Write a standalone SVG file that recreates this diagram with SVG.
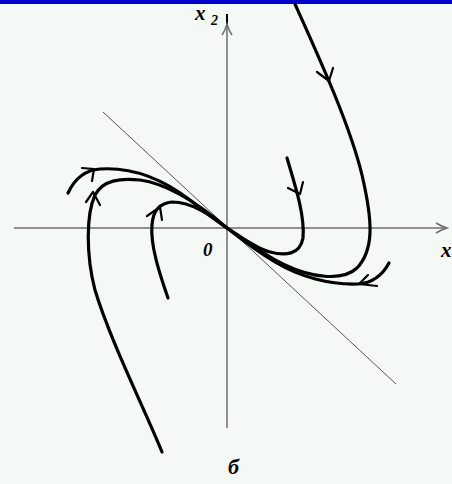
<svg xmlns="http://www.w3.org/2000/svg" width="452" height="484" viewBox="0 0 452 484">
<style>
.axis{fill:none;stroke:#6e6e6e;stroke-width:1.5}
.diag{fill:none;stroke:#555;stroke-width:1}
.traj{fill:none;stroke:#000;stroke-width:3.2;stroke-linecap:round;stroke-linejoin:round}
.arr{fill:none;stroke:#000;stroke-width:2.2;stroke-linecap:round;stroke-linejoin:round}
.lbl{font-family:"Liberation Serif",serif;font-style:italic;font-weight:bold;fill:#000}
</style>
<rect x="0" y="0" width="452" height="484" fill="#f4f9f6"/>
<rect x="0" y="0" width="452" height="4" fill="#0000c8"/>
<g id="axes">
<path class="axis" d="M227,16 L227,428"/>
<path d="M227,14 L227,25" stroke="#000" stroke-width="2"/>
<path class="axis" d="M222,35 Q225,31 227,24 Q229,31 232,35"/>
<path class="axis" d="M14,228 L447,228"/>
<path class="axis" d="M436,223 Q441,226 447,228 Q441,230 436,233"/>
<path class="diag" d="M103,112 L396,384"/>
</g>
<g id="labels">
<text class="lbl" x="195" y="20" font-size="21">x</text>
<text class="lbl" x="211" y="25" font-size="14" font-style="normal" font-family="Liberation Sans, sans-serif">2</text>
<text class="lbl" x="441" y="257" font-size="21">x</text>
<text class="lbl" x="203" y="256" font-size="19">0</text>
<text class="lbl" x="228" y="474" font-size="22">б</text>
</g>
<g id="connectors">
<g id="traj1"><path class="traj" d="M295,4 C318,55 350,125 362,175 C373,222 374,250 357,268 C342,282 310,277 285,265 C260,253 240,236 227,228"/>
<path class="arr" d="M317,72 L329,81 L333,68"/></g>
<g id="traj2"><path class="traj" d="M287,158 C295,185 305,215 303,238 C300,255 285,256 270,252 C255,248 240,236 227,228"/>
<path class="arr" d="M288,188 L300,194 L303,182"/></g>
<g id="traj3"><path class="traj" d="M389,263 C382,276 372,283 358,284 C330,285 300,277 275,262 C255,250 240,238 227,228"/>
<path class="arr" d="M368,275 L359,284 L377,286"/></g>
<g id="traj4"><path class="traj" d="M68,193 C75,178 85,170 100,169 C130,167 160,177 190,200 C205,212 218,222 227,228"/>
<path class="arr" d="M82,168 L94,169 L92,181"/></g>
<g id="traj5"><path class="traj" d="M162,452 C145,410 110,340 95,290 C86,255 86,215 95,195 C103,180 120,178 140,180 C170,184 200,205 227,228"/>
<path class="arr" d="M86,202 L93,192 L100,205"/></g>
<g id="traj6"><path class="traj" d="M168,298 C160,275 150,245 152,225 C153,210 160,203 172,202 C192,202 210,215 227,228"/>
<path class="arr" d="M147,216 L160,207 L162,220"/></g>
</g>
</svg>
